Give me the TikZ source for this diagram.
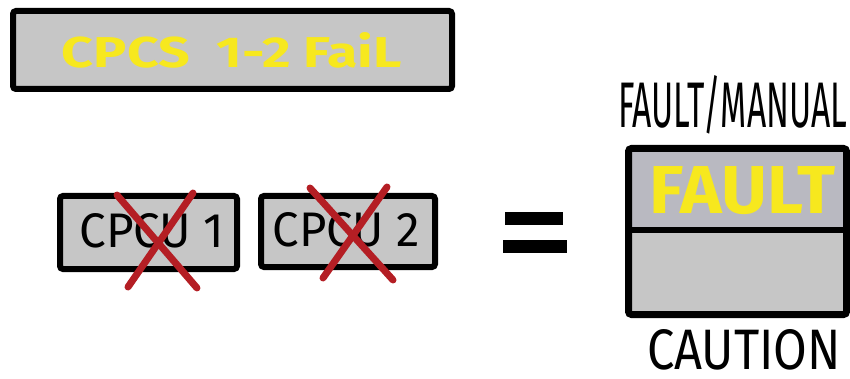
\documentclass[tikz,border=0pt]{standalone}
\usepackage{fontspec}
\usepackage{graphicx}
\setmainfont{Fira Sans}
\definecolor{panelgray}{HTML}{C6C6C6}
\definecolor{panelgrayb}{HTML}{B9B9C1}
\definecolor{lampyellow}{HTML}{F7E81E}
\definecolor{crossred}{HTML}{B41E24}
\tikzset{
  panel/.style={draw=black, line width=6pt, fill=panelgray, rounded corners=3pt, inner sep=0pt},
  crossline/.style={draw=crossred, line width=7pt, line cap=round},
  eqbar/.style={fill=black, draw=none},
}
\begin{document}
\begin{tikzpicture}[x=1pt,y=-1pt]
\useasboundingbox (0,0) rectangle (850,379);
% top banner
\node[panel, minimum width=439pt, minimum height=78pt] (banner) at (232.5,50) {};
\node[text=lampyellow, inner sep=0pt] (bannertxt) at (232,50) {\resizebox{340pt}{35pt}{\bfseries CPCS\ \ 1-2 FaiL}};
% CPCU boxes
\node[panel, minimum width=177pt, minimum height=73pt] (cpcu1) at (148.5,232.5) {};
\node[inner sep=0pt] (cpcu1txt) at (152,230.5) {\resizebox{145pt}{34pt}{CPCU 1}};
\node[panel, minimum width=174pt, minimum height=71pt] (cpcu2) at (348,231.5) {};
\node[inner sep=0pt] (cpcu2txt) at (346.5,230) {\resizebox{147pt}{34pt}{CPCU 2}};
% red crosses
\coordinate (a1) at (117,195); \coordinate (a2) at (197,288);
\coordinate (b1) at (193,193); \coordinate (b2) at (128,287);
\coordinate (c1) at (310,188); \coordinate (c2) at (393,280);
\coordinate (d1) at (387,187); \coordinate (d2) at (323,278);
\draw[crossline] (a1) -- (a2);
\draw[crossline] (b1) -- (b2);
\draw[crossline] (c1) -- (c2);
\draw[crossline] (d1) -- (d2);
% equals sign
\fill[eqbar] (505,212) rectangle (563,225);
\fill[eqbar] (503,240) rectangle (567,253);
% right indicator
\node[inner sep=0pt] (fmtxt) at (732.5,105) {\resizebox{229pt}{52pt}{FAULT/MANUAL}};
\fill[panelgrayb] (628.5,148.5) rectangle (846.5,230);
\fill[panelgray] (628.5,230) rectangle (846.5,314.5);
\draw[line width=7pt, rounded corners=3pt] (628.5,148.5) rectangle (846.5,314.5);
\coordinate (divl) at (628.5,230); \coordinate (divr) at (846.5,230);
\draw[line width=6pt] (divl) -- (divr);
\node[text=lampyellow, inner sep=0pt] (faulttxt) at (742.5,191) {\resizebox{185pt}{47pt}{\bfseries FAULT}};
\node[inner sep=0pt] (cautxt) at (744,350) {\resizebox{194pt}{40pt}{CAUTION}};
\end{tikzpicture}
\end{document}
